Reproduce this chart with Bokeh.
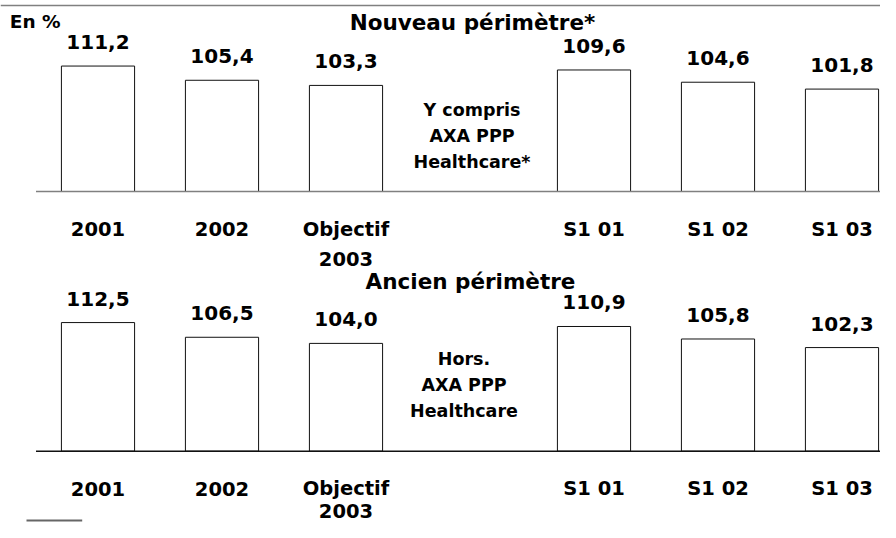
from bokeh.plotting import figure
from bokeh.models import Range1d, Span
from bokeh.core.properties import value
from bokeh.embed import file_html
from bokeh.resources import INLINE

# ---------------- data ----------------
categories = ["2001", "2002", "Objectif\n2003", "S1 01", "S1 02", "S1 03"]
slots = [0, 1, 2, 4, 5, 6]          # slot 3 is kept empty for the note
nouveau = [111.2, 105.4, 103.3, 109.6, 104.6, 101.8]
ancien = [112.5, 106.5, 104.0, 110.9, 105.8, 102.3]
title_top = "Nouveau périmètre*"
title_bottom = "Ancien périmètre"
note_top = ["Y compris", "AXA PPP", "Healthcare*"]
note_bottom = ["Hors.", "AXA PPP", "Healthcare"]
unit_label = "En %"
base_value = 60
note_slot = 3

# ---------------- layout constants ----------------
W, H = 880, 522
SLOT_PX = 124.0
SLOT0_X = 97.5          # px of slot 0 centre inside the figure
PX_PER_UNIT = 2.45
TOP_BASE_PX = 191.0     # px from top of figure of the upper baseline
LOW_BASE_PX = 450.7     # px from top of figure of the lower baseline
TEXT_DY = -8            # correction: text renders lower than its anchor
FONT = value("DejaVu Sans")

x_start = -SLOT0_X / SLOT_PX
x_end = (W - SLOT0_X) / SLOT_PX
top_start = base_value - (H - TOP_BASE_PX) / PX_PER_UNIT
top_end = base_value + TOP_BASE_PX / PX_PER_UNIT
low_start = base_value - (H - LOW_BASE_PX) / PX_PER_UNIT
low_end = base_value + LOW_BASE_PX / PX_PER_UNIT

p = figure(width=W, height=H,
           x_range=Range1d(x_start, x_end),
           y_range=Range1d(top_start, top_end),
           x_axis_type=None, y_axis_type=None,
           output_backend="svg", toolbar_location=None,
           min_border=0)
p.extra_y_ranges = {"low": Range1d(low_start, low_end)}
p.outline_line_color = None
p.background_fill_color = "white"
p.border_fill_color = "white"

lines1 = [c.split("\n")[0] for c in categories]
lines2 = [c.split("\n")[1] if "\n" in c else "" for c in categories]


def fmt(v):
    return f"{v:.1f}".replace(".", ",")


def panel(vals, title, note, rng, base_color, title_dx, note_dx, note_offsets,
          cat_offsets):
    kw = {} if rng is None else {"y_range_name": rng}
    p.vbar(x=slots, top=vals, bottom=base_value, width=0.59,
           fill_color="white", line_color="#111111", line_width=1, **kw)
    p.segment(x0=[-0.5], y0=[base_value], x1=[x_end + 1], y1=[base_value],
              line_color=base_color, line_width=1.6, **kw)
    p.text(x=slots, y=vals, text=[fmt(v) for v in vals],
           text_align="center", text_baseline="alphabetic",
           y_offset=-16 + TEXT_DY,
           text_font=FONT, text_font_style="bold", text_font_size="20px",
           text_color="black", **kw)
    p.text(x=slots, y=[base_value] * len(slots), text=lines1,
           text_align="center", text_baseline="alphabetic",
           y_offset=cat_offsets[0] + TEXT_DY,
           text_font=FONT, text_font_style="bold", text_font_size="19.5px",
           text_color="black", **kw)
    p.text(x=slots, y=[base_value] * len(slots), text=lines2,
           text_align="center", text_baseline="alphabetic",
           y_offset=cat_offsets[1] + TEXT_DY,
           text_font=FONT, text_font_style="bold", text_font_size="19.5px",
           text_color="black", **kw)
    p.text(x=[note_slot], y=[base_value], text=[title],
           text_align="center", text_baseline="alphabetic",
           x_offset=title_dx, y_offset=-161.5 + TEXT_DY,
           text_font=FONT, text_font_style="bold", text_font_size="21.5px",
           text_color="black", **kw)
    for line, off in zip(note, note_offsets):
        p.text(x=[note_slot], y=[base_value], text=[line],
               text_align="center", text_baseline="alphabetic",
               x_offset=note_dx, y_offset=off + TEXT_DY,
               text_font=FONT, text_font_style="bold", text_font_size="17.5px",
               text_color="black", **kw)


panel(nouveau, title_top, note_top, None, "#808080", 2.5, 2,
      [-73.5, -47.5, -21.5], [45.5, 75])
panel(ancien, title_bottom, note_bottom, "low", "#111111", 0.5, -6,
      [-84.7, -58.7, -32.7], [45.5, 67.3])

# unit label
p.text(x=[x_start], y=[base_value], text=[unit_label],
       text_align="left", text_baseline="alphabetic",
       x_offset=9.3, y_offset=-161.7 + TEXT_DY,
       text_font=FONT, text_font_style="bold", text_font_size="18.5px",
       text_color="black")

# top rule
p.add_layout(Span(location=top_end - 5.0 / PX_PER_UNIT, dimension="width",
                  line_color="#808080", line_width=1.6))

# short footnote rule at the bottom left
fx0 = (26 - SLOT0_X) / SLOT_PX
fx1 = (81.7 - SLOT0_X) / SLOT_PX
fy = base_value - (H - 2 - LOW_BASE_PX) / PX_PER_UNIT
p.segment(x0=[fx0], y0=[fy], x1=[fx1], y1=[fy], line_color="#666666",
          line_width=2, y_range_name="low")

open("out.html", "w").write(file_html(p, INLINE))
